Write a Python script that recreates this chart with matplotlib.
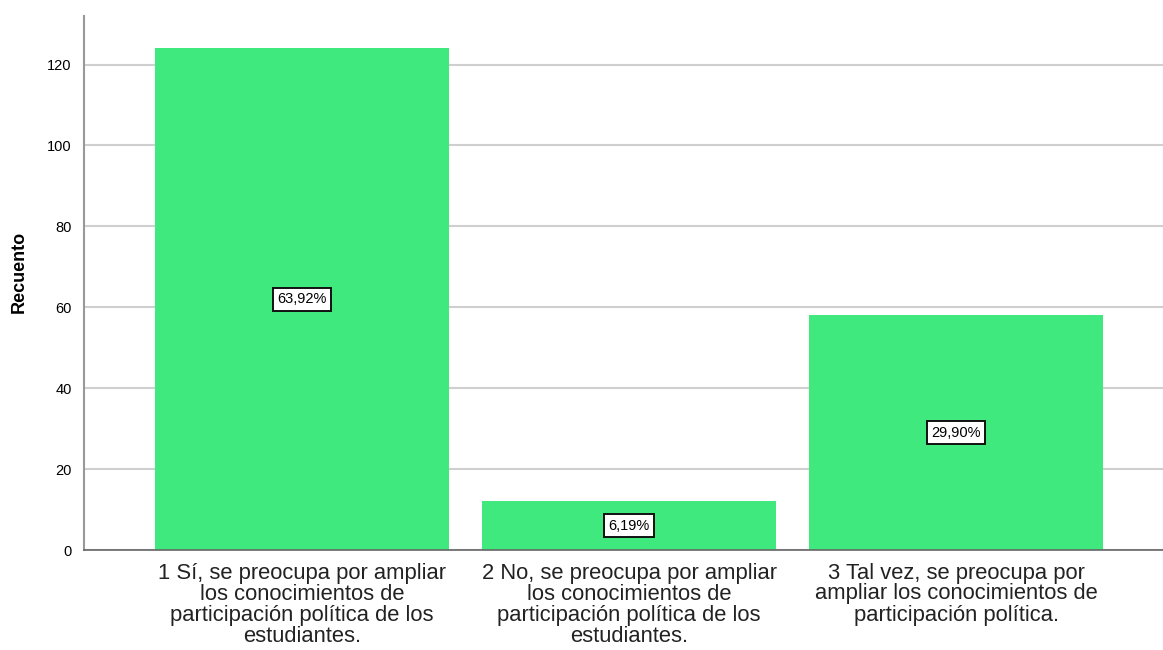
import matplotlib
matplotlib.use("Agg")
import matplotlib.pyplot as plt

categories = [
    "1 Sí, se preocupa por ampliar\nlos conocimientos de\nparticipación política de los\nestudiantes.",
    "2 No, se preocupa por ampliar\nlos conocimientos de\nparticipación política de los\nestudiantes.",
    "3 Tal vez, se preocupa por\nampliar los conocimientos de\nparticipación política.",
]
counts = [124, 12, 58]
pct_labels = ["63,92%", "6,19%", "29,90%"]
yticks = [0, 20, 40, 60, 80, 100, 120]

plt.rcParams['font.family'] = ['Liberation Sans', 'DejaVu Sans']

fig = plt.figure(figsize=(11.63, 6.5), dpi=100)
ax = fig.add_axes([84/1163, 100/650, 1 - 84/1163, (550-16)/650])

x = list(range(len(counts)))
bars = ax.bar(x, counts, width=0.9, color='#40E97D', zorder=2)
ax.set_xlim(-0.667, 2.633)
ax.set_ylim(0, 132)
ax.set_yticks(yticks)
ax.set_yticklabels([str(t) for t in yticks], fontsize=10.5)
ax.yaxis.grid(True, color='#cfcfcf', linewidth=1.5, zorder=0)
ax.set_axisbelow(True)
ax.tick_params(axis='y', length=0, pad=9)
ax.tick_params(axis='x', length=0, pad=9)
ax.set_xticks(x)
ax.set_xticklabels(categories, fontsize=15.8, linespacing=1.0, va='top', ha='center', color='#222222')

for s in ['top', 'right']:
    ax.spines[s].set_visible(False)
ax.spines['left'].set_color('#999999')
ax.spines['left'].set_linewidth(1.5)
ax.spines['bottom'].set_color('#666666')
ax.spines['bottom'].set_linewidth(1.2)

ax.set_ylabel("Recuento", fontsize=13, fontweight='bold')
ax.yaxis.set_label_coords(-0.052, 0.52)

for xi, c, lab in zip(x, counts, pct_labels):
    ax.text(xi, c / 2, lab, ha='center', va='center', fontsize=10.5,
            bbox=dict(boxstyle='square,pad=0.3', facecolor='white', edgecolor='#111111', linewidth=1.4),
            zorder=3)

fig.savefig("out.png", dpi=100)
